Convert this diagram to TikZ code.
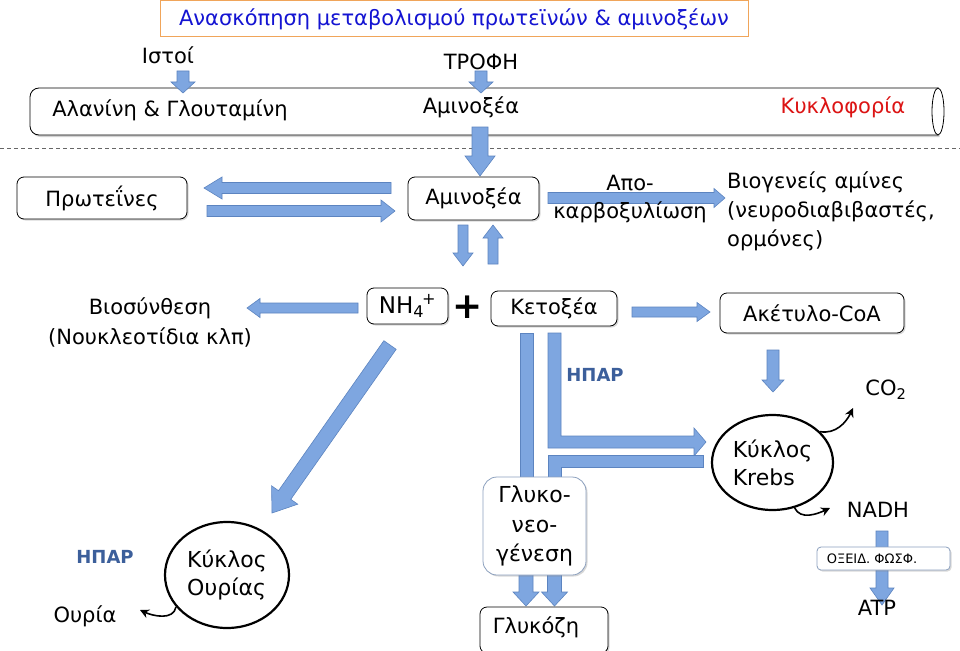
\documentclass[tikz,border=0pt]{standalone}
\usepackage{fontspec}
\setmainfont{DejaVu Sans}
\usetikzlibrary{calc,shapes.geometric,shadows,arrows.meta}
\definecolor{afill}{RGB}{126,166,224}
\definecolor{aline}{RGB}{92,132,192}
\definecolor{ttlblue}{RGB}{20,20,210}
\definecolor{ttlorange}{RGB}{240,165,90}
\definecolor{hpar}{RGB}{60,95,155}
\definecolor{kred}{RGB}{220,20,20}
\definecolor{softline}{RGB}{140,160,190}
\newcommand\blockarr[5]{%
  \coordinate (bah) at ($(#2)!#5pt!(#1)$);
  \filldraw[blk] ($(#1)!#3pt!90:(#2)$) -- ($(bah)!#3pt!90:(#2)$) -- ($(bah)!#4pt!90:(#2)$) -- (#2) -- ($(bah)!#4pt!-90:(#2)$) -- ($(bah)!#3pt!-90:(#2)$) -- ($(#1)!#3pt!-90:(#2)$) -- cycle;}
\tikzset{
  blk/.style={fill=afill, draw=aline, line width=0.6pt, line join=miter},
  bx/.style={draw=black, line width=0.8pt, rounded corners=7pt, fill=white,
    drop shadow={shadow xshift=1.5pt, shadow yshift=-1.5pt, opacity=0.3}, inner sep=0pt},
  softbx/.style={draw=softline, line width=0.8pt, fill=white,
    drop shadow={shadow xshift=1.5pt, shadow yshift=-1.5pt, opacity=0.3}, inner sep=0pt},
  lbl/.style={inner sep=0pt},
  cyc/.style={ellipse, draw=black, line width=2.2pt, inner sep=0pt, fill=white},
  curvy/.style={line width=1.6pt, -{Stealth[length=9pt,width=9pt]}},
  hp/.style={text=hpar, inner sep=0pt, font=\fontsize{18pt}{20pt}\selectfont\bfseries},
}
\begin{document}
\begin{tikzpicture}[x=1pt,y=-1pt, every node/.style={font=\fontsize{21pt}{24pt}\selectfont}]
\useasboundingbox[fill=white] (0,0) rectangle (960,650);

% title
\node[draw=ttlorange, line width=1pt, fill=white, minimum width=588pt, minimum height=36pt,
  text=ttlblue, inner sep=0pt, font=\fontsize{21pt}{24pt}\selectfont] (title) at (454,19)
  {Ανασκόπηση μεταβολισμού πρωτεϊνών \& αμινοξέων};
\node[lbl] (istoi) at (168,55) {Ιστοί};
\node[lbl] (trofi) at (481,62) {ΤΡΟΦΗ};

% tube
\draw[fill=white, line width=0.8pt, drop shadow={shadow xshift=1.5pt, shadow yshift=-2pt, opacity=0.35}]
  (938,88) -- (39,88) arc[start angle=90,end angle=180,radius=9pt] -- (30,126)
  arc[start angle=180,end angle=270,radius=9pt] -- (938,135) -- cycle;
\draw[fill=white, line width=0.8pt] (938,111.5) ellipse[x radius=6pt, y radius=23.5pt];
\node[lbl] (alan) at (170,110) {Αλανίνη \& Γλουταμίνη};
\node[lbl] (amtube) at (471,107) {Αμινοξέα};
\node[lbl, text=kred] (kykl) at (843,107) {Κυκλοφορία};

% dashed separator
\coordinate (dl) at (0,148);
\coordinate (dr) at (960,148);
\draw[gray!80!black, line width=0.8pt, dash pattern=on 4pt off 3pt] (dl) -- (dr);

\coordinate (i1) at (183,71); \coordinate (i2) at (183,93);
\blockarr{i1}{i2}{6}{12}{11}
\coordinate (t1) at (481,71); \coordinate (t2) at (481,93);
\blockarr{t1}{t2}{6}{12}{11}
\coordinate (c1) at (480,127); \coordinate (c2) at (480,176);
\blockarr{c1}{c2}{8}{15}{20}

% row 1
\node[bx, minimum width=170pt, minimum height=42pt] (prot) at (102,198) {Πρωτεΐνες};
\node[bx, minimum width=131pt, minimum height=43pt] (amino) at (473.5,198.5) {Αμινοξέα};
\coordinate (pa1) at (391,188); \coordinate (pa2) at (204,188);
\blockarr{pa1}{pa2}{5.5}{11}{18}
\coordinate (pb1) at (207,211); \coordinate (pb2) at (395,211);
\blockarr{pb1}{pb2}{5.5}{11}{14}
\coordinate (d1) at (548,198); \coordinate (d2) at (725,198);
\blockarr{d1}{d2}{5.5}{9.5}{11}
\node[lbl, align=center, font=\fontsize{21pt}{28pt}\selectfont] (decarb) at (630,199) {Απο-\\καρβοξυλίωση};
\node[lbl, anchor=west, align=left, font=\fontsize{21pt}{29pt}\selectfont] (amines) at (727,211)
  {Βιογενείς αμίνες\\(νευροδιαβιβαστές,\\ορμόνες)};
\coordinate (m1) at (463,225); \coordinate (m2) at (463,266);
\blockarr{m1}{m2}{5}{10}{13}
\coordinate (u1) at (493,264); \coordinate (u2) at (493,225);
\blockarr{u1}{u2}{5}{10}{13}

% row 2
\node[bx, minimum width=81pt, minimum height=36pt, font=\fontsize{23pt}{24pt}\selectfont] (nh4) at (407.5,306) {NH\textsubscript{4}\kern-2pt\textsuperscript{+}};
\node[lbl, font=\fontsize{36pt}{36pt}\selectfont\bfseries] (plus) at (468,307) {+};
\node[bx, minimum width=126pt, minimum height=35pt] (keto) at (554,308.5) {Κετοξέα};
\node[lbl, align=center, font=\fontsize{21pt}{30pt}\selectfont] (bios) at (150,322) {Βιοσύνθεση\\(Νουκλεοτίδια κλπ)};
\node[bx, minimum width=184pt, minimum height=40pt] (acoa) at (812,313) {Ακέτυλο-CoA};
\coordinate (b1) at (358,308); \coordinate (b2) at (247,308);
\blockarr{b1}{b2}{5}{9.5}{13}
\coordinate (k1) at (632,312); \coordinate (k2) at (710,312);
\blockarr{k1}{k2}{5}{9.5}{13}
\coordinate (ac1) at (773,350); \coordinate (ac2) at (773,392);
\blockarr{ac1}{ac2}{6}{11}{12}
\coordinate (dg1) at (390,345); \coordinate (dg2) at (272,513);
\blockarr{dg1}{dg2}{7.5}{16}{22}

% liver bars
\filldraw[blk] (520,333) rectangle (533,478);
\filldraw[blk] (548,333) -- (561,333) -- (561,436) -- (694,436) -- (694,428) -- (706,442)
  -- (694,456) -- (694,448) -- (548,448) -- cycle;
\filldraw[blk] (703,455) -- (548,455) -- (548,478) -- (561,478) -- (561,467) -- (703,467) -- cycle;
\node[hp] (hpar1) at (595,375) {ΗΠΑΡ};

\coordinate (g1) at (526,574); \coordinate (g2) at (526,606);
\blockarr{g1}{g2}{7}{13}{14}
\coordinate (h1) at (554.5,574); \coordinate (h2) at (554.5,606);
\blockarr{h1}{h2}{7}{13}{14}
\node[softbx, rounded corners=14pt, minimum width=103pt, minimum height=98pt, align=center,
  font=\fontsize{22pt}{29.5pt}\selectfont] (gluco) at (534.5,526) {Γλυκο-\\νεο-\\γένεση};
\node[bx, minimum width=128pt, minimum height=46pt] (glc) at (544,630) {};
\node[lbl] (glct) at (536,627) {Γλυκόζη};

% Krebs
\node[cyc, minimum width=121pt, minimum height=95pt, align=left,
  font=\fontsize{22pt}{28pt}\selectfont] (krebs) at (772.5,462.5) {Κύκλος\\Krebs};
\node[lbl] (co2) at (886,390) {CO\textsubscript{2}};
\node[lbl] (nadh) at (878,510) {NADH};
\coordinate (co2tip) at (853,408);
\coordinate (nadhtip) at (830,508);
\draw[curvy] (krebs.33) to[out=-10, in=-115] (co2tip);
\draw[curvy] (krebs.-64) to[out=-65, in=205] (nadhtip);
\coordinate (n1) at (882,531); \coordinate (n2) at (882,605);
\blockarr{n1}{n2}{6}{12}{17}
\node[softbx, rounded corners=4pt, minimum width=133pt, minimum height=23pt] (oxphos) at (883.5,558.5) {};
\node[lbl, font=\fontsize{13pt}{14pt}\selectfont] (oxt) at (872,558.5) {ΟΞΕΙΔ. ΦΩΣΦ.};
\node[lbl] (atp) at (877,608) {ATP};

% urea
\node[cyc, minimum width=124pt, minimum height=106pt, align=left,
  font=\fontsize{22pt}{28pt}\selectfont] (urea) at (227,575) {Κύκλος\\Ουρίας};
\node[hp] (hpar2) at (105,557) {ΗΠΑΡ};
\node[lbl] (ouria) at (85,616) {Ουρία};
\coordinate (ouriatip) at (140,610);
\draw[curvy] (urea.212) to[out=-100, in=-25] (ouriatip);
\end{tikzpicture}
\end{document}
